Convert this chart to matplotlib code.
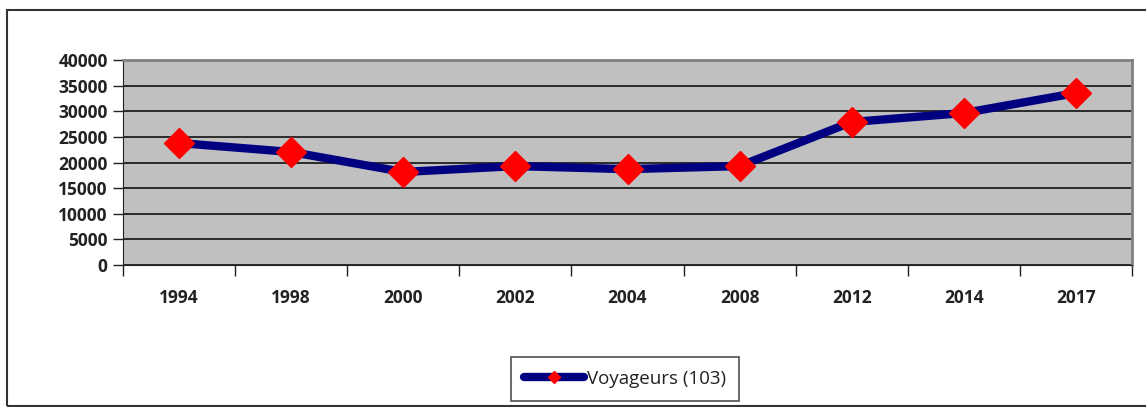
import numpy as np
import matplotlib
matplotlib.use("Agg")
import matplotlib.pyplot as plt
from matplotlib.patches import Rectangle

years = ["1994", "1998", "2000", "2002", "2004", "2008", "2012", "2014", "2017"]
voyageurs = [23800, 22050, 18150, 19300, 18700, 19300, 27900, 29650, 33550]
yticks = [0, 5000, 10000, 15000, 20000, 25000, 30000, 35000, 40000]

plt.rcParams['font.family'] = ['Open Sans', 'DejaVu Sans']

W, H = 1146, 407
fig = plt.figure(figsize=(W / 100, H / 100), dpi=100)

# outer frame like the spreadsheet chart area
fig.patches.append(Rectangle((7 / W, 0.003), 1.2, (H - 10) / H - 0.003, transform=fig.transFigure,
                             fill=False, edgecolor='#333333', linewidth=1.5))

ax = fig.add_axes([123 / W, 1 - 265 / H, (1132 - 123) / W, (265 - 60) / H])
ax.set_facecolor('#c0c0c0')

x = np.arange(len(years)) + 0.5
ax.plot(x, voyageurs, color='#000080', linewidth=6, solid_capstyle='round',
        marker='D', markersize=15, markerfacecolor='#ff0000', markeredgecolor='#ff0000',
        label='Voyageurs (103)', zorder=3)

ax.set_xlim(0, len(years))
ax.set_ylim(0, 40000)
ax.set_yticks(yticks)
ax.set_yticklabels([str(v) for v in yticks], fontsize=12.5, fontweight='bold', color='#222222')
ax.yaxis.grid(True, color='#111111', linewidth=1.2)
ax.set_axisbelow(True)

ax.set_xticks(np.arange(len(years) + 1))
ax.set_xticklabels([])
ax.set_xticks(x, minor=True)
ax.set_xticklabels(years, minor=True, fontsize=12.5, fontweight='bold', color='#222222')
ax.tick_params(axis='x', which='minor', length=0, pad=17)
ax.tick_params(axis='x', which='major', length=8, width=1, color='#222222')
ax.tick_params(axis='y', length=7, width=1, color='#222222', pad=4)

for side in ['top', 'right']:
    ax.spines[side].set_color('#808080')
    ax.spines[side].set_linewidth(2)
ax.spines['left'].set_color('#222222')
ax.spines['bottom'].set_color('#222222')

leg = fig.legend(handles=ax.get_lines(), loc='center',
                 bbox_to_anchor=(625 / W, 1 - 379 / H), fancybox=False,
                 edgecolor='#222222', fontsize=13.5, borderpad=0.7, borderaxespad=0,
                 handlelength=3.2, handletextpad=0.15, markerscale=0.4)
leg.get_frame().set_linewidth(1.2)
for t in leg.get_texts():
    t.set_color('#222222')

fig.savefig("out.png", dpi=100)
